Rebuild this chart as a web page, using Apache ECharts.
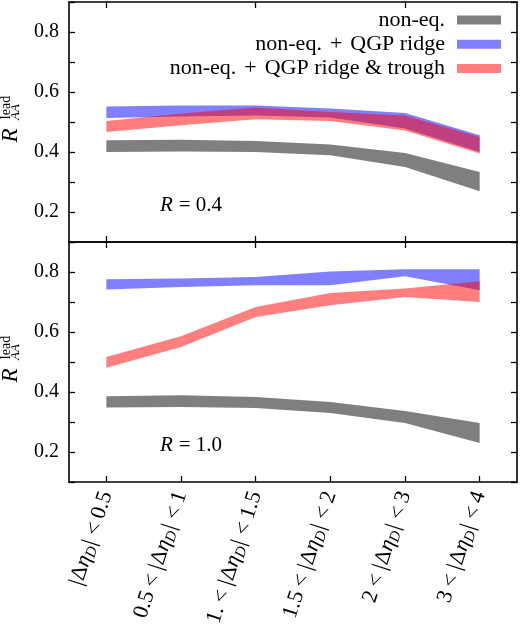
<!DOCTYPE html>
<html><head><meta charset="utf-8">
<script src="https://cdn.jsdelivr.net/npm/echarts@6/dist/echarts.min.js"></script>
<style>html,body{margin:0;padding:0;background:#fff}#c{width:521px;height:638px}</style>
</head><body><div id="c"></div>
<script>
const categories = ['|Δη_D| < 0.5', '0.5 < |Δη_D| < 1', '1. < |Δη_D| < 1.5', '1.5 < |Δη_D| < 2', '2 < |Δη_D| < 3', '3 < |Δη_D| < 4'];
const seriesNames = ['non-eq.', 'non-eq. + QGP ridge', 'non-eq. + QGP ridge & trough'];
const yTicks = [0.2, 0.4, 0.6, 0.8];

// R = 0.4 panel (lower / upper edges of bands)
const top_gray_lo = [0.400, 0.402, 0.400, 0.389, 0.350, 0.269];
const top_gray_hi = [0.439, 0.441, 0.437, 0.425, 0.397, 0.333];
const top_blue_lo = [0.513, 0.518, 0.522, 0.515, 0.478, 0.400];
const top_blue_hi = [0.552, 0.555, 0.555, 0.545, 0.530, 0.456];
const top_red_lo  = [0.467, 0.489, 0.509, 0.503, 0.472, 0.395];
const top_red_hi  = [0.503, 0.528, 0.548, 0.533, 0.522, 0.450];

// R = 1.0 panel
const bot_gray_lo = [0.348, 0.350, 0.347, 0.330, 0.297, 0.230];
const bot_gray_hi = [0.386, 0.389, 0.383, 0.367, 0.337, 0.297];
const bot_blue_lo = [0.742, 0.750, 0.756, 0.756, 0.786, 0.739];
const bot_blue_hi = [0.776, 0.778, 0.783, 0.802, 0.809, 0.809];
const bot_red_lo  = [0.481, 0.550, 0.650, 0.689, 0.717, 0.700];
const bot_red_hi  = [0.517, 0.586, 0.683, 0.730, 0.745, 0.769];

const colors = ['rgba(0,0,0,0.5)', 'rgba(0,0,255,0.5)', 'rgba(255,0,0,0.5)'];
const FONT = 'Liberation Serif';

function band(name, lo, hi, color, grid, stackId) {
  const diff = hi.map((h, i) => +(h - lo[i]).toFixed(4));
  return [
    { type: 'line', name: stackId + '_base', xAxisIndex: grid * 2, yAxisIndex: grid * 2, stack: stackId,
      data: lo, symbol: 'none', lineStyle: { opacity: 0 }, silent: true, animation: false },
    { type: 'line', name: name, xAxisIndex: grid * 2, yAxisIndex: grid * 2, stack: stackId,
      data: diff, symbol: 'none', lineStyle: { opacity: 0 }, itemStyle: { color: color },
      areaStyle: { color: color, opacity: 1 }, silent: true, animation: false }
  ];
}

const axisLine = { show: true, lineStyle: { color: '#000', width: 1.6 } };
function fmtX(v) {
  return v.replace(/\|/g, '{b||}').replace(/ < /g, '{op|<}').replace('η_D', '{i|η}{s|D}');
}
function xAx(grid, pos, labels) {
  return { type: 'category', gridIndex: grid, position: pos, data: categories, boundaryGap: true,
    axisLine: axisLine, axisTick: { show: true, inside: true, alignWithLabel: true, length: 6, lineStyle: { color: '#000', width: 1.3 } },
    splitLine: { show: false },
    axisLabel: labels ? { show: true, rotate: 72, margin: 10, interval: 0, color: '#000', fontFamily: FONT, fontSize: 22,
      formatter: fmtX,
      rich: { i: { fontStyle: 'italic', fontFamily: FONT, fontSize: 22 },
              s: { fontStyle: 'italic', fontFamily: FONT, fontSize: 15, padding: [10, 0, 0, 0] },
              op: { fontFamily: FONT, fontSize: 22, padding: [0, 5, 0, 5] },
              b: { fontFamily: FONT, fontSize: 22, padding: [0, 1, 0, 1] } } } : { show: false } };
}
function yAx(grid, pos, labels) {
  return { type: 'value', gridIndex: grid, position: pos, min: 0.1, max: 0.9, interval: 0.1,
    axisLine: axisLine, axisTick: { show: true, inside: true, length: 6, lineStyle: { color: '#000', width: 1.3 } },
    splitLine: { show: false },
    axisLabel: labels ? { show: true, margin: 10, color: '#000', fontFamily: FONT, fontSize: 20,
      formatter: v => { const m = yTicks.find(t => Math.abs(t - v) < 1e-6); return m !== undefined ? m.toFixed(1) : ''; } } : { show: false } };
}
// invisible axes that only carry one piece of the rotated y title
function nameAx(grid, text, gap, shift, style) {
  return { type: 'value', gridIndex: grid, position: 'left', min: 0.1, max: 0.9, interval: 0.1,
    axisLine: { show: false }, axisTick: { show: false }, axisLabel: { show: false }, splitLine: { show: false },
    name: text, nameLocation: 'middle', nameRotate: 90, nameGap: gap, nameMoveOverlap: false,
    nameTextStyle: Object.assign({ color: '#000', fontFamily: FONT, verticalAlign: 'middle', align: 'center',
      padding: shift > 0 ? [0, 2 * shift, 0, 0] : [0, 0, 0, -2 * shift] }, style) };
}
function ytitle(grid) {
  return [
    nameAx(grid, 'R', 58, 13.5, { fontSize: 23, fontStyle: 'italic' }),
    nameAx(grid, 'lead', 62.5, -14.5, { fontSize: 14 }),
    nameAx(grid, 'AA', 53.5, -10, { fontSize: 13, fontStyle: 'italic' })
  ];
}
function rlabel(x, y, val) {
  return { type: 'text', x: x, y: y, style: { text: '{i|R}{e|=}{n|' + val + '}', fill: '#000', verticalAlign: 'middle',
    rich: { i: { fontStyle: 'italic', fontFamily: FONT, fontSize: 21 },
            e: { fontFamily: FONT, fontSize: 21, padding: [0, 5, 0, 6] },
            n: { fontFamily: FONT, fontSize: 21 } } } };
}

const chart = echarts.init(document.getElementById('c'), null, { renderer: 'canvas' });
chart.setOption({
  animation: false,
  backgroundColor: '#fff',
  grid: [ { left: 69, right: 4, top: 2, height: 240, containLabel: false, outerBoundsMode: 'none' },
          { left: 69, right: 4, top: 242, height: 240, containLabel: false, outerBoundsMode: 'none' } ],
  xAxis: [ xAx(0, 'bottom', false), xAx(0, 'top', false), xAx(1, 'bottom', true), xAx(1, 'top', false) ],
  yAxis: [ yAx(0, 'left', true), yAx(0, 'right', false), yAx(1, 'left', true), yAx(1, 'right', false),
           ...ytitle(0), ...ytitle(1) ],
  legend: { show: true, orient: 'vertical', right: 20, top: 9, padding: 0, align: 'right', icon: 'rect', itemWidth: 44, itemHeight: 9, itemGap: 2.3,
    data: seriesNames, selectedMode: false,
    formatter: n => n.replace(' + ', '{p|+}'),
    textStyle: { fontFamily: FONT, fontSize: 22, lineHeight: 21, color: '#000', padding: [0, 7, 0, 0],
      rich: { p: { fontFamily: FONT, fontSize: 22, lineHeight: 21, padding: [0, 8, 0, 8] } } } },
  graphic: [ rlabel(160, 205, '0.4'), rlabel(160, 445, '1.0') ],
  series: [
    ...band(seriesNames[0], top_gray_lo, top_gray_hi, colors[0], 0, 't0'),
    ...band(seriesNames[1], top_blue_lo, top_blue_hi, colors[1], 0, 't1'),
    ...band(seriesNames[2], top_red_lo, top_red_hi, colors[2], 0, 't2'),
    ...band(seriesNames[0], bot_gray_lo, bot_gray_hi, colors[0], 1, 'b0'),
    ...band(seriesNames[1], bot_blue_lo, bot_blue_hi, colors[1], 1, 'b1'),
    ...band(seriesNames[2], bot_red_lo, bot_red_hi, colors[2], 1, 'b2')
  ]
});
</script></body></html>
